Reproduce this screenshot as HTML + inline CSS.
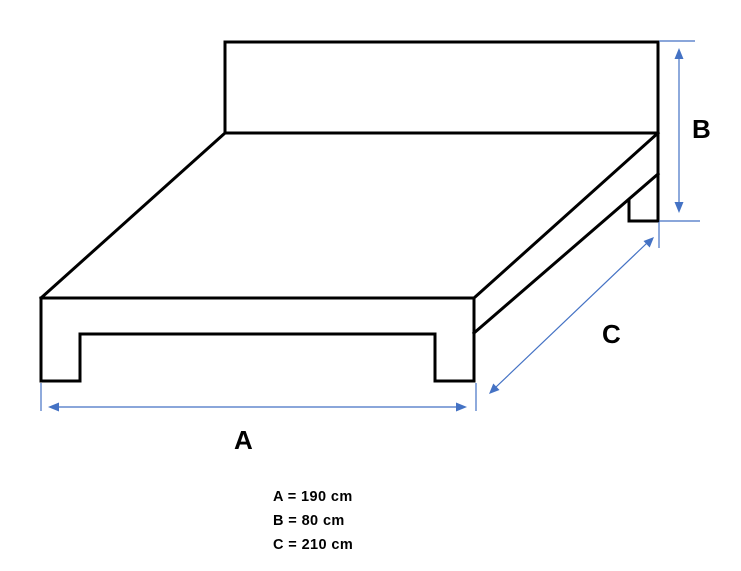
<!DOCTYPE html>
<html>
<head>
<meta charset="utf-8">
<style>
html,body{margin:0;padding:0;background:#fff;}
svg{display:block;}
text{font-family:"Liberation Sans",Arial,sans-serif;font-weight:bold;fill:#000;}
</style>
</head>
<body>
<svg width="741" height="571" viewBox="0 0 741 571" xmlns="http://www.w3.org/2000/svg">
  <rect width="741" height="571" fill="#fff"/>
  <g fill="none" stroke="#000" stroke-width="3" stroke-linejoin="miter" stroke-linecap="square">
    <!-- headboard -->
    <polyline points="225,133 225,42 658,42 658,221 629,221 629,200"/>
    <line x1="225" y1="133" x2="658" y2="133"/>
    <!-- left top diagonal -->
    <line x1="225" y1="133" x2="41" y2="298"/>
    <!-- right diagonals -->
    <line x1="474" y1="298" x2="658" y2="133"/>
    <line x1="474" y1="333" x2="658" y2="174"/>
    <!-- front panel -->
    <polyline points="41,298 474,298 474,381 435,381 435,334 80,334 80,381 41,381 41,298"/>
  </g>
  <g stroke="#4472C4" stroke-width="1.2" fill="none">
    <line x1="41" y1="383" x2="41" y2="411"/>
    <line x1="476" y1="383" x2="476" y2="411"/>
    <line x1="56" y1="407" x2="459" y2="407"/>
    <line x1="659" y1="41" x2="695" y2="41"/>
    <line x1="659" y1="221" x2="700" y2="221"/>
    <line x1="679" y1="56" x2="679" y2="205"/>
    <line x1="659" y1="222" x2="659" y2="248"/>
    <line x1="495" y1="388" x2="647" y2="243"/>
  </g>
  <g fill="#4472C4">
    <polygon points="48,407 59,402.5 59,411.5"/>
    <polygon points="467,407 456,402.5 456,411.5"/>
    <polygon points="679,48 674.5,59 683.5,59"/>
    <polygon points="679,213 674.5,202 683.5,202"/>
    <polygon points="489,394 493.3,383.5 499.5,390"/>
    <polygon points="654,237 649.7,247.5 643.5,241"/>
  </g>
  <text x="234" y="449" font-size="26">A</text>
  <text x="692" y="138" font-size="26">B</text>
  <text x="602" y="343" font-size="26">C</text>
  <text x="273" y="501" font-size="14.5" letter-spacing="0.4">A = 190 cm</text>
  <text x="273" y="525" font-size="14.5" letter-spacing="0.4">B = 80 cm</text>
  <text x="273" y="549" font-size="14.5" letter-spacing="0.4">C = 210 cm</text>
</svg>
</body>
</html>
